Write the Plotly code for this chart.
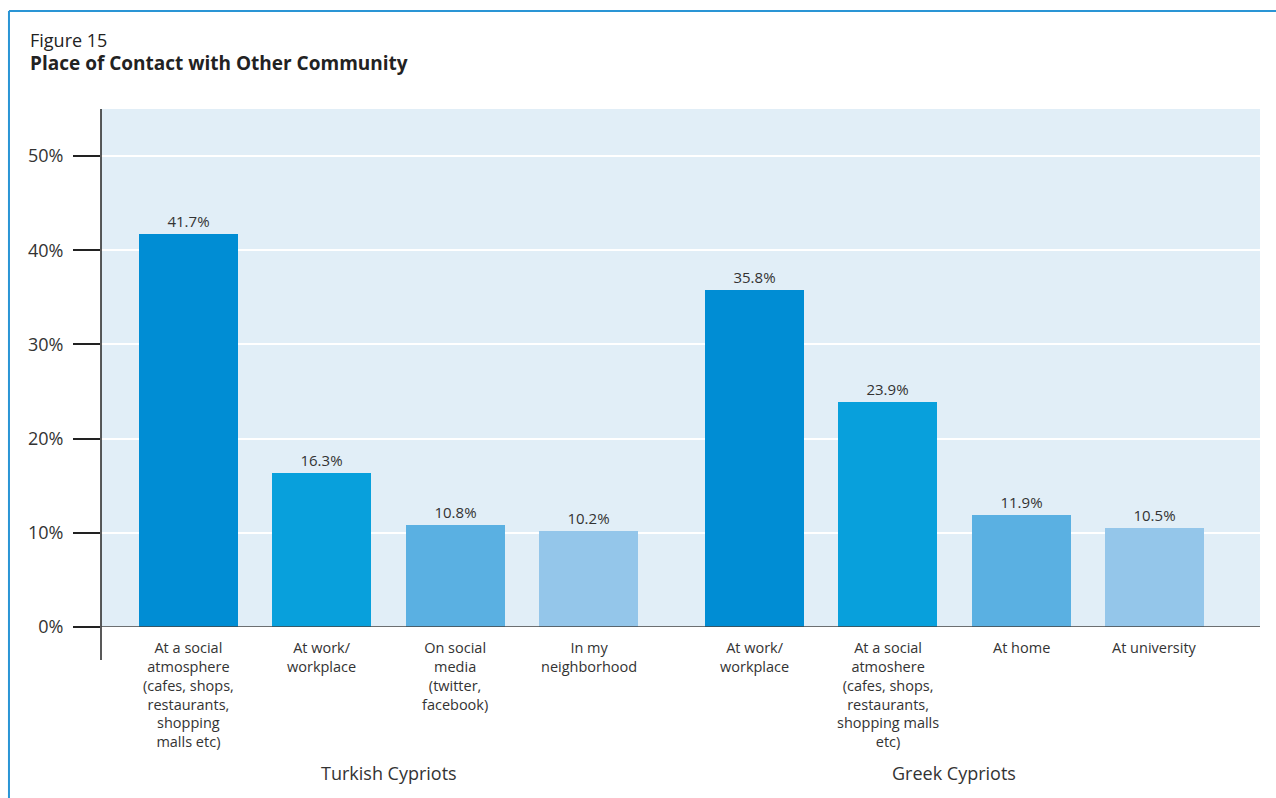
import plotly.graph_objects as go

# Survey results: where respondents meet members of the other community
groups = ["Turkish Cypriots", "Greek Cypriots"]
tc_places = [
    "At a social<br>atmosphere<br>(cafes, shops,<br>restaurants,<br>shopping<br>malls etc)",
    "At work/<br>workplace",
    "On social<br>media<br>(twitter,<br>facebook)",
    "In my<br>neighborhood",
]
tc_values = [41.7, 16.3, 10.8, 10.2]
gc_places = [
    "At work/<br>workplace",
    "At a social<br>atmoshere<br>(cafes, shops,<br>restaurants,<br>shopping malls<br>etc)",
    "At home",
    "At university",
]
gc_values = [35.8, 23.9, 11.9, 10.5]
y_ticks = [0, 10, 20, 30, 40, 50]
y_tick_labels = ["0%", "10%", "20%", "30%", "40%", "50%"]

bar_colors = ["#008DD4", "#08A0DC", "#5AB0E2", "#94C6EA"]
FONT = "Open Sans, DejaVu Sans, sans-serif"
TEXT = "#333333"
GROUP_GAP = 0.24  # extra spacing between the two community groups

# Lay out category slots: one unit per bar, plus a gap between groups
positions, values, labels, colors, group_centres = [], [], [], [], []
for g, (places, vals) in enumerate([(tc_places, tc_values), (gc_places, gc_values)]):
    xs = [g * (len(tc_places) + GROUP_GAP) + i for i in range(len(places))]
    positions += xs
    values += vals
    labels += places
    colors += bar_colors[: len(places)]
    group_centres.append(sum(xs) / len(xs))

fig = go.Figure(
    go.Bar(
        x=positions,
        y=values,
        width=0.742,
        marker=dict(color=colors, line=dict(width=0)),
        text=[f"{v:.1f}%" for v in values],
        textposition="outside",
        textfont=dict(family=FONT, size=15, color=TEXT),
        cliponaxis=False,
        hoverinfo="skip",
    )
)

annotations = []
# Category labels beneath each bar
for x, lab in zip(positions, labels):
    annotations.append(dict(
        x=x, y=0, xref="x", yref="paper", text=lab, showarrow=False,
        yanchor="top", yshift=-9, align="center",
        font=dict(family=FONT, size=14.5, color=TEXT),
    ))
# Group captions
for x, name in zip(group_centres, groups):
    annotations.append(dict(
        x=x, y=-0.282, xref="x", yref="paper", text=name, showarrow=False,
        yanchor="middle", font=dict(family=FONT, size=18, color=TEXT),
    ))
# Figure heading
annotations.append(dict(
    x=-0.0628, y=1.133, xref="paper", yref="paper", text="Figure 15",
    showarrow=False, xanchor="left", yanchor="middle",
    font=dict(family=FONT, size=18, color="#222222"),
))
annotations.append(dict(
    x=-0.0628, y=1.089, xref="paper", yref="paper",
    text="<b>Place of Contact with Other Community</b>",
    showarrow=False, xanchor="left", yanchor="middle",
    font=dict(family=FONT, size=19, color="#222222"),
))

frame = "#2A95D5"
shapes = [
    # outer frame: top and left edges
    dict(type="line", xref="paper", yref="paper", x0=-0.0794, x1=1.02, y0=1.189, y1=1.189,
         line=dict(color=frame, width=2)),
    dict(type="line", xref="paper", yref="paper", x0=-0.0794, x1=-0.0794, y0=1.189, y1=-0.34,
         line=dict(color=frame, width=2)),
    # vertical axis extending below the baseline
    dict(type="line", xref="paper", yref="paper", x0=0, x1=0, y0=1, y1=-0.0637,
         line=dict(color="#222222", width=1.5)),
    # baseline
    dict(type="line", xref="paper", yref="y", x0=0, x1=1, y0=0, y1=0,
         line=dict(color="#444444", width=1.5)),
]

fig.update_layout(
    width=1276, height=798,
    margin=dict(l=101, r=16, t=109, b=171),
    paper_bgcolor="white",
    plot_bgcolor="#E1EEF7",
    showlegend=False,
    bargap=0,
    annotations=annotations,
    shapes=shapes,
    xaxis=dict(
        range=[positions[0] - 0.656, positions[0] + 8.03],
        showticklabels=False, showgrid=False, zeroline=False, showline=False,
        fixedrange=True,
    ),
    yaxis=dict(
        range=[0, 55],
        tickvals=y_ticks, ticktext=y_tick_labels,
        ticks="outside", ticklen=27, tickwidth=1.5, tickcolor="#222222",
        tickfont=dict(family=FONT, size=18, color=TEXT),
        ticklabelstandoff=6,
        showgrid=True, gridcolor="white", gridwidth=1.5,
        zeroline=False, showline=False, fixedrange=True,
    ),
)

fig.write_html("out.html")
